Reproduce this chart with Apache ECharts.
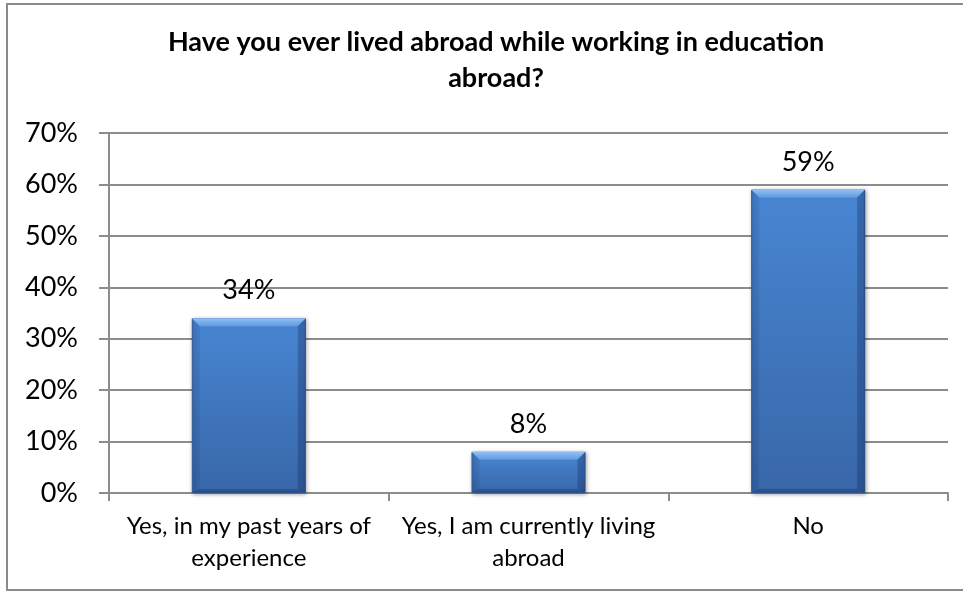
<!DOCTYPE html>
<html>
<head>
<meta charset="utf-8">
<script src="https://cdn.jsdelivr.net/npm/echarts@6/dist/echarts.min.js"></script>
<style>
  html, body { margin: 0; padding: 0; background: #ffffff; }
  #chart { width: 963px; height: 592px; }
</style>
</head>
<body>
<div id="chart"></div>
<script>
// Survey answers and their shares (percent)
const titleText = 'Have you ever lived abroad while working in education\nabroad?';
const categories = [
  'Yes, in my past years of\nexperience',
  'Yes, I am currently living\nabroad',
  'No'
];
const shares = [34, 8, 59];
const yTicks = [0, 10, 20, 30, 40, 50, 60, 70];

const FONT = 'Lato, "Open Sans", sans-serif';
const BAR_W = 114;
const BEVEL = 8;

const chart = echarts.init(document.getElementById('chart'), null, { renderer: 'canvas' });

const barFill = new echarts.graphic.LinearGradient(0, 0, 0, 1, [
  { offset: 0, color: '#4886d2' },
  { offset: 1, color: '#3867a9' }
]);

// Bevelled edges laid over each bar, positioned through the axis scales
function renderBevel(params, api) {
  const idx = api.value(0);
  const val = api.value(1);
  const topPt = api.coord([idx, val]);
  const basePt = api.coord([idx, 0]);
  const l = topPt[0] - BAR_W / 2;
  const r = topPt[0] + BAR_W / 2;
  const t = topPt[1];
  const btm = basePt[1];
  const b = Math.min(BEVEL, (btm - t) / 3);
  return {
    type: 'group',
    children: [
      {
        type: 'polygon',
        shape: { points: [[l, t], [r, t], [r - b, t + b], [l + b, t + b]] },
        style: {
          fill: new echarts.graphic.LinearGradient(0, 0, 0, 1, [
            { offset: 0, color: 'rgba(150,200,250,0.95)' },
            { offset: 1, color: 'rgba(110,165,230,0.7)' }
          ])
        }
      },
      {
        type: 'polygon',
        shape: { points: [[l, t], [l + b, t + b], [l + b, btm - b / 2], [l, btm]] },
        style: { fill: 'rgba(20,40,90,0.10)' }
      },
      {
        type: 'polygon',
        shape: { points: [[r, t], [r - b, t + b], [r - b, btm - b / 2], [r, btm]] },
        style: { fill: 'rgba(10,30,80,0.28)' }
      },
      {
        type: 'polygon',
        shape: { points: [[l, btm], [l + b, btm - b / 2], [r - b, btm - b / 2], [r, btm]] },
        style: { fill: 'rgba(10,30,80,0.25)' }
      }
    ]
  };
}

chart.setOption({
  animation: false,
  backgroundColor: '#ffffff',
  title: {
    text: titleText,
    left: 491,
    top: 19,
    textAlign: 'center',
    textStyle: {
      fontFamily: FONT,
      fontWeight: 'bold',
      fontSize: 27,
      lineHeight: 36,
      color: '#000000'
    }
  },
  graphic: [
    {
      // chart frame (its right edge lies past the visible area)
      type: 'rect',
      shape: { x: 7, y: 4, width: 1000, height: 586 },
      style: { fill: 'none', stroke: '#8a8a8a', lineWidth: 2 },
      silent: true,
      z: -1
    }
  ],
  grid: { left: 109, right: 15, top: 133, bottom: 99, containLabel: false },
  xAxis: {
    type: 'category',
    data: categories,
    axisLine: { show: true, lineStyle: { color: '#8c8c8c', width: 2 } },
    axisTick: { show: true, alignWithLabel: false, length: 8, lineStyle: { color: '#8c8c8c', width: 2 } },
    axisLabel: {
      interval: 0,
      margin: 17,
      fontFamily: FONT,
      fontSize: 24,
      lineHeight: 32,
      color: '#000000'
    },
    splitLine: { show: false }
  },
  yAxis: {
    type: 'value',
    min: yTicks[0],
    max: yTicks[yTicks.length - 1],
    interval: 10,
    axisLine: { show: true, lineStyle: { color: '#8c8c8c', width: 2 } },
    axisTick: { show: true, length: 10, inside: false, lineStyle: { color: '#8c8c8c', width: 2 } },
    axisLabel: {
      margin: 31,
      fontFamily: FONT,
      fontSize: 27,
      color: '#000000',
      formatter: v => v + '%'
    },
    splitLine: { show: true, lineStyle: { color: '#8c8c8c', width: 2 } }
  },
  series: [
    {
      type: 'bar',
      data: shares,
      barWidth: BAR_W,
      itemStyle: {
        color: barFill,
        borderColor: '#35629f',
        borderWidth: 1,
        shadowColor: 'rgba(0,0,0,0.35)',
        shadowBlur: 4,
        shadowOffsetX: 1,
        shadowOffsetY: 1
      },
      label: {
        show: true,
        position: 'top',
        distance: 14,
        fontFamily: FONT,
        fontSize: 27,
        color: '#000000',
        formatter: p => p.value + '%'
      }
    },
    {
      type: 'custom',
      renderItem: renderBevel,
      data: shares.map((v, i) => [i, v]),
      encode: { x: 0, y: 1 },
      silent: true,
      z: 3
    }
  ]
});
</script>
</body>
</html>
